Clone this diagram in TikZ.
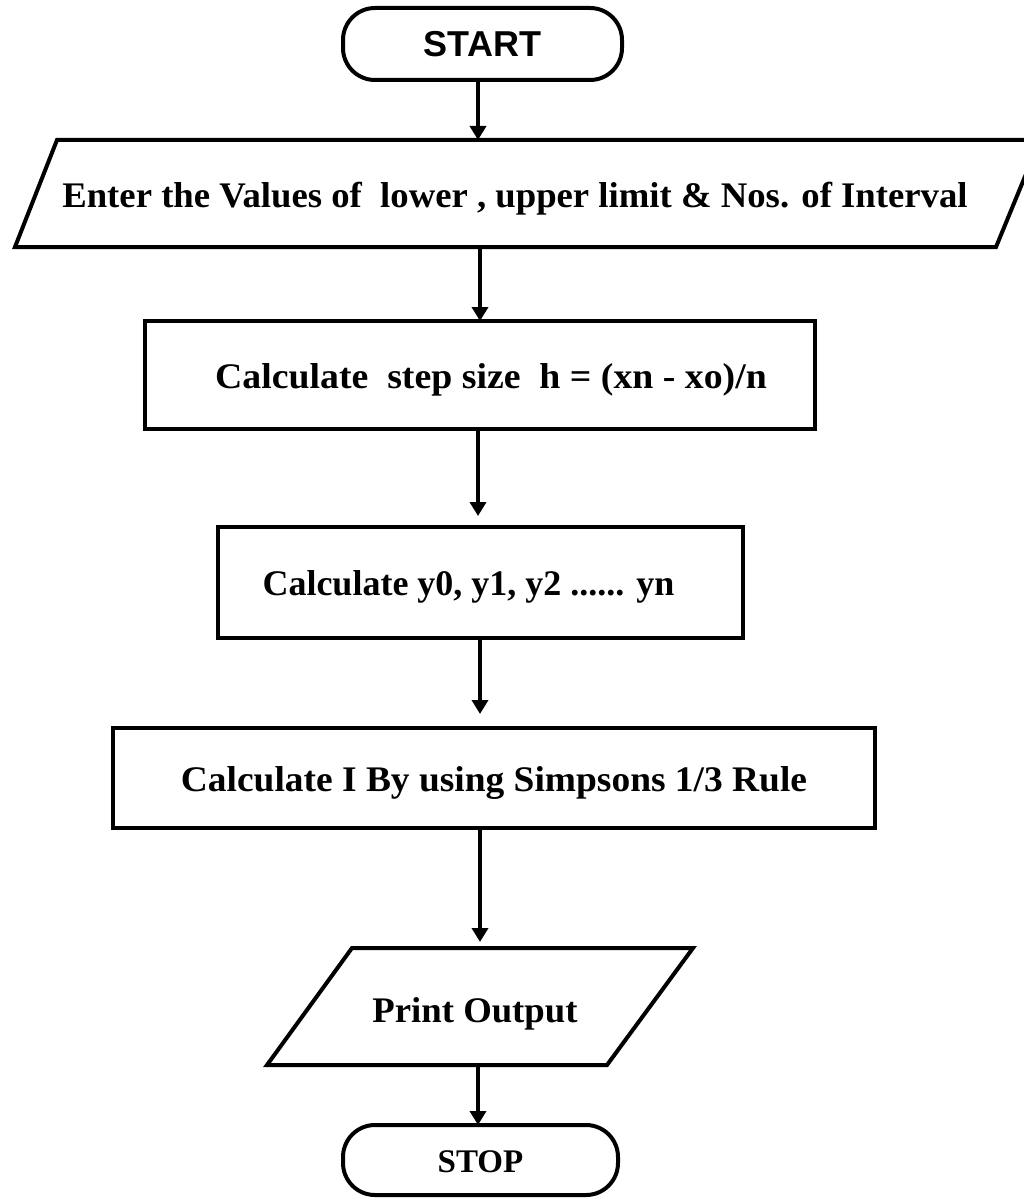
\documentclass[tikz,border=0pt]{standalone}
\usepackage{fontspec}
\setmainfont{Liberation Serif}
\newfontfamily\headfont{Liberation Sans}
\usetikzlibrary{arrows.meta}
\begin{document}
\begin{tikzpicture}[x=1pt,y=-1pt,
  box/.style={line width=4pt,draw=black,inner sep=0pt,outer sep=0pt},
  terminal/.style={box,rectangle,rounded corners=32pt},
  process/.style={box,rectangle},
  outline/.style={line width=4pt,line join=miter},
  label/.style={font=\bfseries\fontsize{36}{40}\selectfont,text height=26pt,text depth=0pt},
  flow/.style={line width=4pt,-{Triangle[width=16pt,length=14pt]}}]
\useasboundingbox (0,0) rectangle (1024,1198);
\clip (0,0) rectangle (1024,1198);

% start terminal
\node[terminal,minimum width=279pt,minimum height=72pt,
      font=\headfont\bfseries\fontsize{36}{40}\selectfont] (start) at (482.5,44) {START};

% input parallelogram
\draw[outline] (57,140) -- (1040,140) -- (996,247) -- (15,247) -- cycle;
\coordinate (inTop) at (515,140);
\coordinate (inBot) at (515,247);
\node[font=\bfseries\fontsize{36}{40}\selectfont,inner sep=0pt,anchor=base] (input) at (515,208)
      {\scalebox{1.02}[1]{Enter the Values of~ lower , upper limit \& Nos. of Interval}};

% processing steps
\node[process,minimum width=670pt,minimum height=108pt,label] (step) at (480,375)
      {\hspace*{22pt}\scalebox{1.05}[1]{Calculate~ step size~ h = (xn - xo)/n}};
\node[process,minimum width=525pt,minimum height=111pt,label] (ys) at (480.5,582.5)
      {Calculate y0, y1, y2 ...... yn\hspace*{24pt}};
\node[process,minimum width=762pt,minimum height=100pt,label] (rule) at (494,778)
      {\scalebox{1.04}[1]{Calculate I By using Simpsons 1/3 Rule}};

% output parallelogram
\draw[outline] (352,948) -- (693,948) -- (607,1065) -- (267,1065) -- cycle;
\coordinate (outTop) at (480,948);
\coordinate (outBot) at (480,1065);
\node[font=\bfseries\fontsize{36}{40}\selectfont,inner sep=0pt,anchor=base] (print) at (475,1022)
      {\scalebox{1.02}[1]{Print Output}};

% stop terminal
\node[terminal,minimum width=275pt,minimum height=70pt,
      font=\bfseries\fontsize{33}{38}\selectfont,text height=24pt,text depth=0pt] (stop) at (480.5,1160) {STOP};

% vertical lines of the connectors
\coordinate (ax) at (478,0);
\coordinate (bx) at (480,0);

\draw[flow] (start.south -| ax) -- (inTop -| ax);
\draw[flow] (inBot -| bx) -- (step.north -| bx);
\draw[flow,shorten >=11pt] (step.south -| ax) -- (ys.north -| ax);
\draw[flow,shorten >=14pt] (ys.south -| bx) -- (rule.north -| bx);
\draw[flow,shorten >=6pt] (rule.south -| bx) -- (outTop -| bx);
\draw[flow] (outBot -| ax) -- (stop.north -| ax);
\end{tikzpicture}
\end{document}
